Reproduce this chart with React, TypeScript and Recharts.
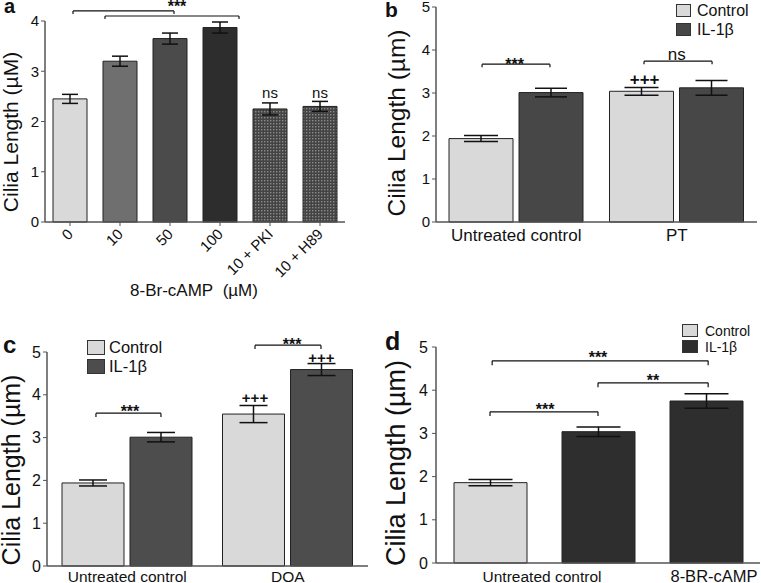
import React from "react";
import {
  BarChart,
  Bar,
  XAxis,
  YAxis,
  ErrorBar,
  Cell,
  ReferenceLine,
  ReferenceDot,
  Legend,
} from "recharts";

const FONT = "'Liberation Sans', Arial, Helvetica, sans-serif";
const INK = "#111";
const AXIS = "#555";

// a: 8-Br-cAMP dose response
const doseLabels = ["0", "10", "50", "100", "10 + PKI", "10 + H89"];
const doseMeans = [2.45, 3.2, 3.65, 3.87, 2.25, 2.3];
const doseErrors = [0.09, 0.1, 0.11, 0.11, 0.12, 0.1];
const doseFills = ["#d9d9d9", "#6f6f6f", "#4b4b4b", "#2d2d2d", "url(#dots)", "url(#dots)"];
const fourTicks = [0, 1, 2, 3, 4];

// b: PT
const ptGroups = ["Untreated control", "PT"];
const ptControl = [1.94, 3.04];
const ptControlErr = [0.07, 0.09];
const ptIL = [3.01, 3.12];
const ptILErr = [0.1, 0.17];

// c: DOA
const doaGroups = ["Untreated control", "DOA"];
const doaControl = [1.94, 3.55];
const doaControlErr = [0.07, 0.2];
const doaIL = [3.01, 4.59];
const doaILErr = [0.11, 0.14];

// d: 8-BR-cAMP
const campBars = ["control", "il1b", "camp"];
const campTickLabels = ["Untreated control", "", "8-BR-cAMP"];
const campMeans = [1.86, 3.04, 3.75];
const campErrors = [0.07, 0.11, 0.17];
const campGroup = [0, 1, 1]; // 0 = Control, 1 = IL-1β

const fiveTicks = [0, 1, 2, 3, 4, 5];
const legendNames = ["Control", "IL-1β"];

// significance brackets: [x1, x2, y, drop], x in slot units (slot i spans i..i+1)
const doseBrackets = [
  [0.56, 2.58, 4.2, 0.06],
  [1.2, 3.88, 4.1, 0.06],
];
const doseMarks = [
  { x: 2.64, y: 4.18, text: "***", size: 16, bold: true },
  { x: 4.5, y: 2.47, text: "ns", size: 15 },
  { x: 5.5, y: 2.47, text: "ns", size: 15 },
];
const ptBrackets = [
  [0.287, 0.71, 3.67, 0.07],
  [1.296, 1.72, 3.74, 0.07],
];
const ptMarks = [
  { x: 0.49, y: 3.53, text: "***", size: 16, bold: true },
  { x: 1.5, y: 3.77, text: "ns", size: 17 },
  { x: 1.3, y: 3.18, text: "+++", size: 17, bold: true },
];
const doaBrackets = [
  [0.305, 0.71, 3.57, 0.09],
  [1.296, 1.707, 5.16, 0.09],
];
const doaMarks = [
  { x: 0.517, y: 3.47, text: "***", size: 16, bold: true },
  { x: 1.527, y: 5.04, text: "***", size: 16, bold: true },
  { x: 1.296, y: 3.8, text: "+++", size: 15, bold: true },
  { x: 1.71, y: 4.75, text: "+++", size: 15, bold: true },
];
const campBrackets = [
  [0.52, 2.52, 4.68, 0.1],
  [1.5, 2.52, 4.17, 0.1],
  [0.5, 1.5, 3.5, 0.1],
];
const campMarks = [
  { x: 1.5, y: 4.64, text: "***", size: 16, bold: true },
  { x: 2.01, y: 4.09, text: "**", size: 16, bold: true },
  { x: 1.01, y: 3.42, text: "***", size: 16, bold: true },
];

const doseData = doseLabels.map((label, i) => ({ label, slot: i + 0.5, mean: doseMeans[i], err: doseErrors[i] }));
const ptData = ptGroups.map((g, i) => ({
  group: g,
  slot: i + 0.5,
  control: ptControl[i],
  controlErr: ptControlErr[i],
  il: ptIL[i],
  ilErr: ptILErr[i],
}));
const doaData = doaGroups.map((g, i) => ({
  group: g,
  slot: i + 0.5,
  control: doaControl[i],
  controlErr: doaControlErr[i],
  il: doaIL[i],
  ilErr: doaILErr[i],
}));
const campData = campBars.map((id, i) => ({ id, slot: i + 0.5, mean: campMeans[i], err: campErrors[i] }));

function bracket(b: number[], key: string) {
  const [x1, x2, y, drop] = b;
  const seg = (pts: { x: number; y: number }[], k: string) => (
    <ReferenceLine
      key={key + k}
      xAxisId="n"
      segment={pts}
      stroke={INK}
      strokeWidth={1.2}
      ifOverflow="visible"
    />
  );
  return [
    seg([{ x: x1, y }, { x: x2, y }], "h"),
    seg([{ x: x1, y }, { x: x1, y: y - drop }], "l"),
    seg([{ x: x2, y }, { x: x2, y: y - drop }], "r"),
  ];
}

function mark(m: any, key: string) {
  return (
    <ReferenceDot
      key={key}
      xAxisId="n"
      x={m.x}
      y={m.y}
      r={0}
      ifOverflow="visible"
      shape={(p: any) => (
        <text
          x={p.cx}
          y={p.cy}
          textAnchor="middle"
          fontSize={m.size || 15}
          fontWeight={m.bold ? "bold" : "normal"}
          fontFamily={FONT}
          fill={INK}
        >
          {m.text}
        </text>
      )}
    />
  );
}

function yTitle(text: string, x: number, cy: number, size: number) {
  return {
    content: () => (
      <text
        x={x}
        y={cy}
        transform={`rotate(-90 ${x} ${cy})`}
        textAnchor="middle"
        fontSize={size}
        fontFamily={FONT}
        fill={INK}
      >
        {text}
      </text>
    ),
  };
}

function legendContent(colors: string[], box: number[], fontSize: number, pitch: number, gap: number) {
  return () => (
    <div style={{ fontFamily: FONT, fontSize, color: INK, lineHeight: 1 }}>
      {legendNames.map((n, i) => (
        <div key={n} style={{ display: "flex", alignItems: "center", height: pitch }}>
          <span
            style={{
              display: "inline-block",
              width: box[0],
              height: box[1],
              background: colors[i],
              border: "1px solid #333",
              boxSizing: "border-box",
              marginRight: gap,
            }}
          />
          {n}
        </div>
      ))}
    </div>
  );
}

const yTick = (size: number) => ({ fontSize: size, fill: INK, fontFamily: FONT });
const axisLine = { stroke: AXIS, strokeWidth: 1.5 };

function panelLetter(t: string, x: number, y: number, size: number) {
  return (
    <text x={x} y={y} fontSize={size} fontWeight="bold" fontFamily={FONT} fill={INK}>
      {t}
    </text>
  );
}

// hidden numeric axis in slot units, used to place brackets and marks
function helperAxis(n: number) {
  return <XAxis xAxisId="n" dataKey="slot" type="number" domain={[0, n]} allowDataOverflow hide />;
}

function PanelA() {
  return (
    <BarChart width={380} height={300} data={doseData} margin={{ top: 21, right: 35, bottom: 0, left: 0 }} barSize={34}>
      <defs>
        <pattern id="dots" width="3" height="3" patternUnits="userSpaceOnUse">
          <rect width="3" height="3" fill="#444" />
          <rect x="0" y="0" width="1.4" height="1.4" fill="#8a8a8a" />
        </pattern>
      </defs>
      {panelLetter("a", 4, 13, 20)}
      <XAxis
        dataKey="label"
        interval={0}
        height={78}
        tickSize={4}
        tickMargin={0}
        axisLine={axisLine}
        tickLine={{ stroke: AXIS }}
        tick={(p: any) => (
          <text
            x={p.x + 4}
            y={p.y + 9}
            transform={`rotate(-45 ${p.x + 4} ${p.y + 9})`}
            textAnchor="end"
            fontSize={15}
            fontFamily={FONT}
            fill={INK}
          >
            {p.payload.value}
          </text>
        )}
        label={{
          content: () => (
            <text x={194} y={296} textAnchor="middle" fontSize={17} fontFamily={FONT} fill={INK}>
              {"8-Br-cAMP\u00a0\u00a0(µM)"}
            </text>
          ),
        }}
      />
      {helperAxis(6)}
      <YAxis
        domain={[0, 4]}
        ticks={fourTicks}
        interval={0}
        width={45}
        tickSize={4}
        tickMargin={2}
        axisLine={axisLine}
        tickLine={{ stroke: AXIS }}
        tick={yTick(15)}
        label={yTitle("Cilia Length (µM)", 18, 132, 21)}
      />
      <Bar dataKey="mean" stroke="#222" strokeWidth={1} isAnimationActive={false}>
        {doseData.map((d, i) => (
          <Cell key={d.label} fill={doseFills[i]} />
        ))}
        <ErrorBar dataKey="err" width={8} stroke={INK} strokeWidth={1.5} isAnimationActive={false} />
      </Bar>
      {doseBrackets.flatMap((b, i) => bracket(b, "a" + i))}
      {doseMarks.map((m, i) => mark(m, "am" + i))}
    </BarChart>
  );
}

function GroupTick(size: number, dy: number) {
  return (p: any) => (
    <text x={p.x} y={p.y + dy} textAnchor="middle" fontSize={size} fontFamily={FONT} fill={INK}>
      {p.payload.value}
    </text>
  );
}

function PanelB() {
  return (
    <BarChart width={381} height={300} data={ptData} margin={{ top: 7, right: 4, bottom: 0, left: 0 }} barSize={64} barGap={6}>
      {panelLetter("b", 5, 17, 21)}
      <XAxis dataKey="group" interval={0} height={78} tickSize={0} tickMargin={0} axisLine={axisLine} tickLine={false} tick={GroupTick(17, 19)} />
      {helperAxis(2)}
      <YAxis
        domain={[0, 5]}
        ticks={fiveTicks}
        interval={0}
        width={56}
        tickSize={4}
        tickMargin={2}
        axisLine={axisLine}
        tickLine={{ stroke: AXIS }}
        tick={yTick(15)}
        label={yTitle("Cilia Length (µm)", 25, 123, 24.5)}
      />
      <Legend
        layout="vertical"
        align="center"
        verticalAlign="middle"
        wrapperStyle={{ left: 296, top: 1, width: 85, height: 40 }}
        content={legendContent(["#d9d9d9", "#474747"], [15, 13], 16, 19, 6)}
      />
      <Bar dataKey="control" name="Control" fill="#d9d9d9" stroke="#222" isAnimationActive={false}>
        <ErrorBar dataKey="controlErr" width={17} stroke={INK} strokeWidth={1.5} isAnimationActive={false} />
      </Bar>
      <Bar dataKey="il" name="IL-1β" fill="#474747" stroke="#222" isAnimationActive={false}>
        <ErrorBar dataKey="ilErr" width={16} stroke={INK} strokeWidth={1.5} isAnimationActive={false} />
      </Bar>
      {ptBrackets.flatMap((b, i) => bracket(b, "b" + i))}
      {ptMarks.map((m, i) => mark(m, "bm" + i))}
    </BarChart>
  );
}

function PanelC() {
  return (
    <BarChart width={380} height={283} data={doaData} margin={{ top: 52, right: 12, bottom: 0, left: 0 }} barSize={62} barGap={6}>
      {panelLetter("c", 3, 53, 24)}
      <XAxis dataKey="group" interval={0} height={17} tickSize={0} tickMargin={0} axisLine={axisLine} tickLine={false} tick={GroupTick(15.5, 16)} />
      {helperAxis(2)}
      <YAxis
        domain={[0, 5]}
        ticks={fiveTicks}
        interval={0}
        width={47}
        tickSize={4}
        tickMargin={2}
        axisLine={axisLine}
        tickLine={{ stroke: AXIS }}
        tick={yTick(16)}
        label={yTitle("Cilia Length (µm)", 20, 170, 25)}
      />
      <Legend
        layout="vertical"
        align="center"
        verticalAlign="middle"
        wrapperStyle={{ left: 87, top: 38, width: 100, height: 40 }}
        content={legendContent(["#d9d9d9", "#4d4d4d"], [18, 15], 16.5, 19, 4)}
      />
      <Bar dataKey="control" name="Control" fill="#d9d9d9" stroke="#222" isAnimationActive={false}>
        <ErrorBar dataKey="controlErr" width={14} stroke={INK} strokeWidth={1.5} isAnimationActive={false} />
      </Bar>
      <Bar dataKey="il" name="IL-1β" fill="#4d4d4d" stroke="#222" isAnimationActive={false}>
        <ErrorBar dataKey="ilErr" width={14} stroke={INK} strokeWidth={1.5} isAnimationActive={false} />
      </Bar>
      {doaBrackets.flatMap((b, i) => bracket(b, "c" + i))}
      {doaMarks.map((m, i) => mark(m, "cm" + i))}
    </BarChart>
  );
}

const campShift = [52, 0, 8];
const campTickSize = [15.5, 15.5, 16.5];

function PanelD() {
  return (
    <BarChart width={381} height={283} data={campData} margin={{ top: 47, right: 1, bottom: 0, left: 0 }} barSize={73}>
      {panelLetter("d", 5, 50, 25)}
      <XAxis
        dataKey="id"
        interval={0}
        height={20}
        tickSize={0}
        tickMargin={0}
        axisLine={axisLine}
        tickLine={false}
        tick={(p: any) => (
          <text
            x={p.x + campShift[p.index]}
            y={p.y + 19}
            textAnchor="middle"
            fontSize={campTickSize[p.index]}
            fontFamily={FONT}
            fill={INK}
          >
            {campTickLabels[p.index]}
          </text>
        )}
      />
      {helperAxis(3)}
      <YAxis
        domain={[0, 5]}
        ticks={fiveTicks}
        interval={0}
        width={56}
        tickSize={4}
        tickMargin={4}
        axisLine={axisLine}
        tickLine={{ stroke: AXIS }}
        tick={yTick(16)}
        label={yTitle("Cilia Length (µm)", 25, 163, 27)}
      />
      <Legend
        layout="vertical"
        align="center"
        verticalAlign="middle"
        wrapperStyle={{ left: 302, top: 22.5, width: 79, height: 34 }}
        content={legendContent(["#d9d9d9", "#2e2e2e"], [16, 13], 14, 16, 7)}
      />
      <Bar dataKey="mean" stroke="#222" isAnimationActive={false}>
        {campData.map((d, i) => (
          <Cell key={d.id} fill={campGroup[i] === 0 ? "#d9d9d9" : "#2e2e2e"} />
        ))}
        <ErrorBar dataKey="err" width={22} stroke={INK} strokeWidth={1.5} isAnimationActive={false} />
      </Bar>
      {campBrackets.flatMap((b, i) => bracket(b, "d" + i))}
      {campMarks.map((m, i) => mark(m, "dm" + i))}
    </BarChart>
  );
}

export default function App() {
  const cell = (left: number, top: number): React.CSSProperties => ({ position: "absolute", left, top });
  return (
    <div style={{ position: "absolute", left: 0, top: 0, width: 761, height: 583, background: "#fff", overflow: "hidden", fontFamily: FONT }}>
      <div style={cell(0, 0)}>
        <PanelA />
      </div>
      <div style={cell(380, 0)}>
        <PanelB />
      </div>
      <div style={cell(0, 300)}>
        <PanelC />
      </div>
      <div style={cell(380, 300)}>
        <PanelD />
      </div>
    </div>
  );
}
